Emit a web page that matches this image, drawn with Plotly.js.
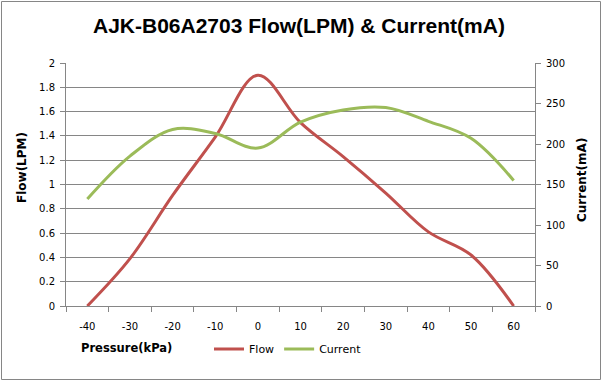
<!DOCTYPE html>
<html>
<head>
<meta charset="utf-8">
<script src="https://cdn.plot.ly/plotly-3.0.1.min.js"></script>
<style>
html,body{margin:0;padding:0;background:#fff;}
#chart{width:602px;height:381px;}
</style>
</head>
<body>
<div id="chart"></div>
<script>
var pressure = ["-40","-30","-20","-10","0","10","20","30","40","50","60"];
var flow = [0, 0.39, 0.91, 1.39, 1.9, 1.51, 1.23, 0.93, 0.61, 0.42, 0];
var current = [132, 185, 218, 213, 195, 227, 242, 245, 228, 207, 155];
var flowTicks = [0,0.2,0.4,0.6,0.8,1,1.2,1.4,1.6,1.8,2];
var flowTickText = ["0","0.2","0.4","0.6","0.8","1","1.2","1.4","1.6","1.8","2"];
var currentTicks = [0,50,100,150,200,250,300];

var W = 602, H = 381, ML = 66, MR = 67, MT = 63, MB = 75;
var PW = W - ML - MR, PH = H - MT - MB;
function px(x){ return (x - ML) / PW; }
function py(y){ return (H - MB - y) / PH; }

var tickFont = {family: "DejaVu Sans", size: 10, color: "#000"};
var gray = "#868686";

var traces = [
  {x: pressure, y: flow, name: "Flow", type: "scatter", mode: "lines",
   line: {color: "#C0504D", width: 3, shape: "spline", smoothing: 1}, yaxis: "y"},
  {x: pressure, y: current, name: "Current", type: "scatter", mode: "lines",
   line: {color: "#9BBB59", width: 3, shape: "spline", smoothing: 1}, yaxis: "y2"}
];

var layout = {
  width: W, height: H,
  margin: {l: ML, r: MR, t: MT, b: MB, pad: 0},
  paper_bgcolor: "#fff", plot_bgcolor: "#fff",
  showlegend: true,
  legend: {orientation: "h", x: px(288), y: py(349), xanchor: "center", yanchor: "middle",
           font: {family: "DejaVu Sans", size: 11, color: "#000"}, bgcolor: "rgba(0,0,0,0)"},
  xaxis: {type: "category", range: [-0.5, 10.5], tickson: "boundaries", ticks: "outside",
          ticklen: 5, tickcolor: gray, showline: true, linecolor: gray, linewidth: 1,
          showgrid: false, zeroline: false, tickfont: tickFont, fixedrange: true,
          ticklabelstandoff: 11},
  yaxis: {range: [0, 2], tickvals: flowTicks, ticktext: flowTickText, ticks: "outside", ticklen: 5,
          tickcolor: gray, showline: true, linecolor: gray, linewidth: 1,
          showgrid: true, gridcolor: gray, gridwidth: 1, zeroline: false, tickfont: tickFont,
          ticklabelstandoff: 3},
  yaxis2: {range: [0, 300], tickvals: currentTicks, overlaying: "y", side: "right", ticks: "outside",
           ticklen: 5, tickcolor: gray, showline: true, linecolor: gray, linewidth: 1,
           showgrid: false, zeroline: false, tickfont: tickFont, ticklabelstandoff: 3},
  annotations: [
    {text: "<b>AJK-B06A2703 Flow(LPM) &amp; Current(mA)</b>", xref: "paper", yref: "paper",
     x: px(299), y: py(25), xanchor: "center", yanchor: "middle", showarrow: false,
     font: {family: "Liberation Sans", size: 21, color: "#000"}},
    {text: "<b>Flow(LPM)</b>", xref: "paper", yref: "paper", x: px(22), y: py(168),
     xanchor: "center", yanchor: "middle", showarrow: false, textangle: -90,
     font: {family: "DejaVu Sans", size: 12, color: "#000"}},
    {text: "<b>Current(mA)</b>", xref: "paper", yref: "paper", x: px(582), y: py(180),
     xanchor: "center", yanchor: "middle", showarrow: false, textangle: -90,
     font: {family: "DejaVu Sans", size: 12, color: "#000"}},
    {text: "<b>Pressure(kPa)</b>", xref: "paper", yref: "paper", x: px(126), y: py(348),
     xanchor: "center", yanchor: "middle", showarrow: false,
     font: {family: "DejaVu Sans", size: 11.5, color: "#000"}}
  ],
  shapes: [
    {type: "rect", xref: "paper", yref: "paper", x0: px(1.5), x1: px(600.5), y0: py(379.5), y1: py(1.5),
     line: {color: "#868686", width: 1}, fillcolor: "rgba(0,0,0,0)", layer: "below"}
  ]
};

Plotly.newPlot("chart", traces, layout, {staticPlot: true, displayModeBar: false});
</script>
</body>
</html>
